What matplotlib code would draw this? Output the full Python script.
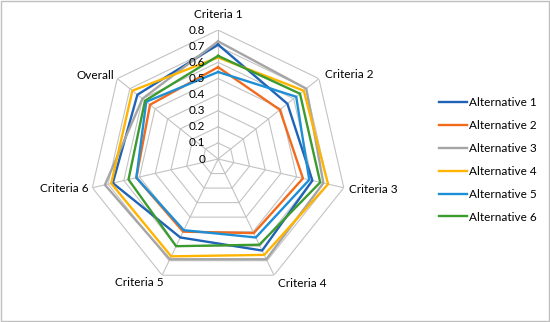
import numpy as np
import matplotlib
matplotlib.use("Agg")
import matplotlib.pyplot as plt
from matplotlib.patches import Rectangle

plt.rcParams['font.family'] = ['Lato', 'DejaVu Sans']

categories = ["Criteria 1", "Criteria 2", "Criteria 3", "Criteria 4",
              "Criteria 5", "Criteria 6", "Overall"]
alt1 = [0.71, 0.55, 0.60, 0.63, 0.54, 0.67, 0.64]
alt2 = [0.57, 0.49, 0.54, 0.51, 0.50, 0.52, 0.54]
alt3 = [0.73, 0.70, 0.67, 0.69, 0.69, 0.72, 0.60]
alt4 = [0.63, 0.68, 0.70, 0.66, 0.67, 0.68, 0.68]
alt5 = [0.54, 0.62, 0.58, 0.54, 0.49, 0.52, 0.57]
alt6 = [0.64, 0.65, 0.65, 0.59, 0.60, 0.57, 0.58]
series_names = ["Alternative 1", "Alternative 2", "Alternative 3",
                "Alternative 4", "Alternative 5", "Alternative 6"]
series = [alt1, alt2, alt3, alt4, alt5, alt6]
colors = ['#1f63b6', '#f26b1d', '#a5a5a5', '#ffb400', '#1c8fd6', '#3c9b2f']
levels = [0, 0.1, 0.2, 0.3, 0.4, 0.5, 0.6, 0.7, 0.8]

n = len(categories)
theta = np.arange(n) * 2 * np.pi / n
theta_c = np.append(theta, theta[0])

fig = plt.figure(figsize=(5.5, 3.22), dpi=100)
fig.add_artist(Rectangle((0.001, 0.002), 0.997, 0.995, transform=fig.transFigure,
                         fill=False, ec='#bfbfbf', lw=1))

ax = fig.add_axes([0.162, 0.1056, 0.469, 0.801], projection='polar')
ax.set_theta_offset(np.pi / 2)
ax.set_theta_direction(-1)
ax.set_ylim(0, 0.8)
ax.grid(False)
ax.spines['polar'].set_visible(False)
ax.set_xticks([])
ax.set_yticks([])
ax.patch.set_alpha(0)

# polygon grid + spokes
for lv in levels[1:]:
    ax.plot(theta_c, [lv] * (n + 1), color='#c3c3c3', lw=0.8, zorder=1)
for t in theta:
    ax.plot([t, t], [0, 0.8], color='#c3c3c3', lw=0.8, zorder=1)

for vals, name, c in zip(series, series_names, colors):
    ax.plot(theta_c, vals + [vals[0]], color=c, lw=1.7, label=name, zorder=3)

# radial labels
for lv in levels:
    ax.annotate(f"{lv:g}", (0, lv), xytext=(-13, 0), textcoords='offset pixels',
                ha='right', va='center', fontsize=8.5, color='#000000')

# category labels
offs = [((0, 16), 'center'), ((6, 4), 'left'), ((5, -2), 'left'),
        ((4, -8), 'left'), ((2, -7), 'right'), ((-4, -1), 'right'),
        ((-3, 3), 'right')]
for t, lab, (o, ha) in zip(theta, categories, offs):
    ax.annotate(lab, (t, 0.8), xytext=o, textcoords='offset pixels',
                ha=ha, va='center', fontsize=8.5)

fig.legend(loc='upper left', bbox_to_anchor=(439 / 550, 1 - 97 / 322),
           frameon=False, fontsize=8.5, handlelength=2.4, handletextpad=0.15,
           labelspacing=1.01, borderpad=0, borderaxespad=0)

fig.savefig("out.png", dpi=100)
